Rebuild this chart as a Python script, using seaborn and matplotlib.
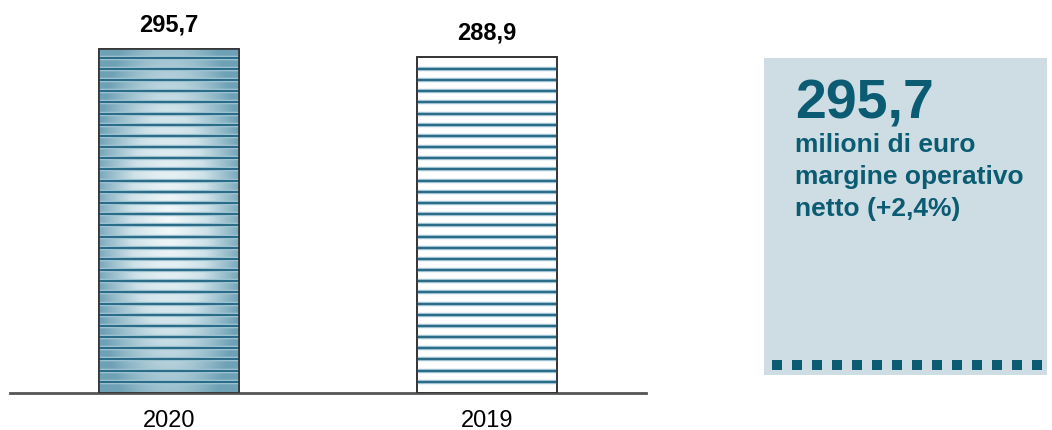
import numpy as np
import pandas as pd
import seaborn as sns
import matplotlib.pyplot as plt
from matplotlib.colors import LinearSegmentedColormap

# dati
anni = ["2020", "2019"]
valori = [295.7, 288.9]
etichette = ["295,7", "288,9"]
titolo_box = "295,7"
righe_box = ["milioni di euro", "margine operativo", "netto (+2,4%)"]

teal = "#0b5b73"
stripe = "#2b6c88"

sns.set_theme(style="white")
plt.rcParams["font.family"] = ["Liberation Sans", "DejaVu Sans"]

df = pd.DataFrame({"anno": anni, "valore": valori})

fig = plt.figure(figsize=(10.52, 4.30), dpi=100)
ax = fig.add_axes([10 / 1052, 37 / 430, 636 / 1052, 383 / 430])

sns.barplot(data=df, x="anno", y="valore", ax=ax, width=0.44,
            color="white", edgecolor="#333333", linewidth=1.2, zorder=2)

ax.set_xlim(-0.5, 1.5)
ax.set_ylim(0, 329)

# sfumatura radiale sulla barra 2020
cmap = LinearSegmentedColormap.from_list("sf", ["#f4f9fa", "#cfe2e9", "#6ea1b5"])
gx, gy = np.meshgrid(np.linspace(-1, 1, 200), np.linspace(-1, 1, 400))
grad = np.clip(np.sqrt(gx ** 2 * 0.85 + gy ** 2 * 0.6), 0, 1)
p0 = ax.patches[0]
im = ax.imshow(grad, cmap=cmap, aspect="auto", zorder=2.5,
               extent=[p0.get_x(), p0.get_x() + p0.get_width(), 0, p0.get_height()])
im.set_clip_path(p0)

# righe orizzontali
passo = 9.6
for i, p in enumerate(ax.patches):
    x0, x1 = p.get_x(), p.get_x() + p.get_width()
    ys = np.arange(passo, p.get_height() - 1, passo)
    ax.hlines(ys, x0, x1, colors="#a9cbd8", linewidth=3.2, zorder=3)
    ax.hlines(ys, x0, x1, colors=stripe, linewidth=1.6, zorder=3.1)
    bordo = plt.Rectangle((x0, 0), p.get_width(), p.get_height(), fill=False,
                          edgecolor="#333333", linewidth=1.2, zorder=4)
    ax.add_patch(bordo)
    ax.text(p.get_x() + p.get_width() / 2, p.get_height() + 15, etichette[i],
            ha="center", va="baseline", fontsize=17, fontweight="bold", color="black")

for s in ["top", "right", "left"]:
    ax.spines[s].set_visible(False)
ax.spines["bottom"].set_color("#555555")
ax.spines["bottom"].set_linewidth(2)
ax.set_yticks([])
ax.set_xlabel("")
ax.set_ylabel("")
ax.tick_params(axis="x", length=0, pad=12, labelsize=17, labelcolor="black")

# riquadro a destra
bx = fig.add_axes([764 / 1052, 55 / 430, 283 / 1052, 317 / 430])
bx.set_facecolor("#cddde3")
bx.set_xlim(0, 1)
bx.set_ylim(0, 1)
bx.set_xticks([])
bx.set_yticks([])
for s in bx.spines.values():
    s.set_visible(False)
bx.text(0.11, 0.81, titolo_box, transform=bx.transAxes, ha="left", va="baseline",
        fontsize=40, fontweight="bold", color=teal)
for k, riga in enumerate(righe_box):
    bx.text(0.11, 0.703 - k * 0.1, riga, transform=bx.transAxes, ha="left",
            va="baseline", fontsize=19, fontweight="bold", color=teal)
bx.plot([0.028, 0.985], [0.032, 0.032], color=teal, linewidth=7.2,
        linestyle=(0, (1, 1)), solid_capstyle="butt", dash_capstyle="butt")

fig.savefig("out.png", dpi=100)
